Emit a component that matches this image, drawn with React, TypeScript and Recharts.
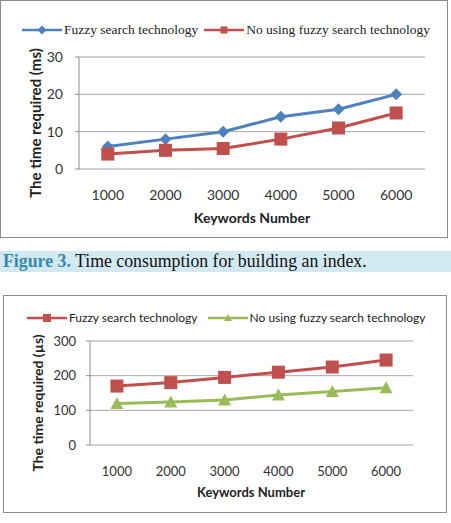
import { CartesianGrid, Legend, Line, LineChart, XAxis, YAxis } from "recharts";

// Keyword counts shared by both charts
const keywords = ["1000", "2000", "3000", "4000", "5000", "6000"];

// Index build time (ms)
const buildFuzzy = [6, 8, 10, 14, 16, 20];
const buildPlain = [4, 5, 5.5, 8, 11, 15];
const buildTicks = [0, 10, 20, 30];

// Query time (µs)
const queryFuzzy = [170, 180, 195, 210, 225, 245];
const queryPlain = [120, 124, 130, 144, 154, 165];
const queryTicks = [0, 100, 200, 300];

const edgeTicks = [0, 1, 2, 3, 4, 5, 6];

const BLUE = "#4f81bd";
const RED = "#c0504d";
const GREEN = "#9bbb59";
const GRID = "#a6a6a6";
const AXIS = "#8c8c8c";
const SANS = "Lato, 'Open Sans', sans-serif";
const SERIF = "'Liberation Serif', 'DejaVu Serif', serif";

const buildData = keywords.map((k, i) => ({
  k,
  fuzzy: buildFuzzy[i],
  plain: buildPlain[i],
}));

const queryData = keywords.map((k, i) => ({
  k,
  fuzzy: queryFuzzy[i],
  plain: queryPlain[i],
}));

type Shape = "diamond" | "square" | "triangle";

function marker(shape: Shape, cx: number, cy: number, size: number, color: string, key?: string) {
  const h = size / 2;
  if (shape === "diamond") {
    return (
      <path
        key={key}
        d={`M${cx},${cy - h - 1}L${cx + h + 1},${cy}L${cx},${cy + h + 1}L${cx - h - 1},${cy}Z`}
        fill={color}
      />
    );
  }
  if (shape === "square") {
    return <rect key={key} x={cx - h} y={cy - h} width={size} height={size} fill={color} />;
  }
  return (
    <path
      key={key}
      d={`M${cx},${cy - h}L${cx + h},${cy + h - 1}L${cx - h},${cy + h - 1}Z`}
      fill={color}
    />
  );
}

function dotFor(shape: Shape, size: number, color: string) {
  return (props: any) => {
    const { cx, cy, index } = props;
    if (cx == null || cy == null) return <g key={`d${index}`} />;
    return marker(shape, cx, cy, size, color, `d${index}`);
  };
}

type LegendItem = { label: string; color: string; shape: Shape };

function legendContent(items: LegendItem[], font: string, fontSize: number, gap: number, markSize: number) {
  return () => (
    <div style={{ display: "flex", alignItems: "center", whiteSpace: "nowrap" }}>
      {items.map((it, i) => (
        <div
          key={it.label}
          style={{ display: "flex", alignItems: "center", marginLeft: i === 0 ? 0 : gap }}
        >
          <svg width={40} height={14} style={{ display: "block" }}>
            <line x1={0} y1={7} x2={40} y2={7} stroke={it.color} strokeWidth={2.5} />
            {marker(it.shape, 20, 7, markSize, it.color)}
          </svg>
          <span
            style={{
              fontFamily: font,
              fontSize,
              color: "#222",
              marginLeft: 2,
              lineHeight: "14px",
            }}
          >
            {it.label}
          </span>
        </div>
      ))}
    </div>
  );
}

function yTitle(text: string, x: number, y: number, fontSize: number) {
  return () => (
    <text
      x={x}
      y={y}
      transform={`rotate(-90 ${x} ${y})`}
      textAnchor="middle"
      dominantBaseline="central"
      fontFamily={SANS}
      fontWeight={700}
      fontSize={fontSize}
      fill="#222"
    >
      {text}
    </text>
  );
}

function xTitle(text: string, x: number, y: number, fontSize: number) {
  return () => (
    <text
      x={x}
      y={y}
      textAnchor="middle"
      dominantBaseline="central"
      fontFamily={SANS}
      fontWeight={700}
      fontSize={fontSize}
      fill="#222"
    >
      {text}
    </text>
  );
}

export default function App() {
  return (
    <div
      style={{
        position: "absolute",
        left: 0,
        top: 0,
        width: 451,
        height: 523,
        background: "#fff",
        overflow: "hidden",
      }}
    >
      {/* index build time */}
      <div
        style={{
          position: "absolute",
          left: 0,
          top: 0,
          width: 448,
          height: 238,
          border: "1px solid #8a8a8a",
          boxSizing: "border-box",
        }}
      />
      <div style={{ position: "absolute", left: 0, top: 0 }}>
        <LineChart
          width={451}
          height={238}
          data={buildData}
          margin={{ top: 57, right: 26, bottom: 19, left: 39 }}
        >
          <CartesianGrid vertical={false} stroke={GRID} />
          <XAxis
            xAxisId="edges"
            type="number"
            domain={[0, 6]}
            ticks={edgeTicks}
            height={0}
            tick={false}
            tickSize={5}
            axisLine={{ stroke: AXIS }}
            tickLine={{ stroke: AXIS }}
          />
          <XAxis
            dataKey="k"
            scale="band"
            height={50}
            axisLine={false}
            tickLine={false}
            tickMargin={15}
            tick={{ fontFamily: SANS, fontSize: 14, fill: "#333" }}
            label={{ content: xTitle("Keywords Number", 252, 217, 14) }}
          />
          <YAxis
            width={40}
            domain={[0, 30]}
            ticks={buildTicks}
            tickSize={4}
            tickMargin={12}
            axisLine={{ stroke: AXIS }}
            tickLine={{ stroke: AXIS }}
            tick={{ fontFamily: SANS, fontSize: 14, fill: "#333" }}
            label={{ content: yTitle("The time required (ms)", 35, 123, 15) }}
          />
          <Legend
            layout="horizontal"
            verticalAlign="middle"
            align="center"
            wrapperStyle={{ top: 23, left: 22, width: "auto", height: 14 }}
            content={legendContent(
              [
                { label: "Fuzzy search technology", color: BLUE, shape: "diamond" },
                { label: "No using fuzzy search technology", color: RED, shape: "square" },
              ],
              SERIF,
              13.5,
              6,
              7
            )}
          />
          <Line
            dataKey="fuzzy"
            name="Fuzzy search technology"
            stroke={BLUE}
            strokeWidth={3}
            dot={dotFor("diamond", 10, BLUE)}
            isAnimationActive={false}
          />
          <Line
            dataKey="plain"
            name="No using fuzzy search technology"
            stroke={RED}
            strokeWidth={3}
            dot={dotFor("square", 13, RED)}
            isAnimationActive={false}
          />
        </LineChart>
      </div>

      {/* caption */}
      <div
        style={{
          position: "absolute",
          left: 0,
          top: 251,
          width: 451,
          height: 21,
          background: "#d2e9f1",
          fontFamily: SERIF,
          fontSize: 17.8,
          lineHeight: "21px",
          paddingLeft: 3,
          whiteSpace: "nowrap",
          color: "#111",
        }}
      >
        <span style={{ color: "#3a88ab", fontWeight: 700 }}>Figure 3.</span> Time consumption for
        building an index.
      </div>

      {/* query time */}
      <div
        style={{
          position: "absolute",
          left: 3,
          top: 295,
          width: 444,
          height: 218,
          border: "1px solid #8a8a8a",
          boxSizing: "border-box",
        }}
      />
      <div style={{ position: "absolute", left: 0, top: 295 }}>
        <LineChart
          width={451}
          height={217}
          data={queryData}
          margin={{ top: 46, right: 38, bottom: 17, left: 50 }}
        >
          <CartesianGrid vertical={false} stroke={GRID} />
          <XAxis
            xAxisId="edges"
            type="number"
            domain={[0, 6]}
            ticks={edgeTicks}
            height={0}
            tick={false}
            tickSize={5}
            axisLine={{ stroke: AXIS }}
            tickLine={{ stroke: AXIS }}
          />
          <XAxis
            dataKey="k"
            scale="band"
            height={50}
            axisLine={false}
            tickLine={false}
            tickMargin={16}
            tick={{ fontFamily: SANS, fontSize: 13, fill: "#333" }}
            label={{ content: xTitle("Keywords Number", 251, 197, 13) }}
          />
          <YAxis
            width={40}
            domain={[0, 300]}
            ticks={queryTicks}
            tickSize={4}
            tickMargin={10}
            axisLine={{ stroke: AXIS }}
            tickLine={{ stroke: AXIS }}
            tick={{ fontFamily: SANS, fontSize: 13, fill: "#333" }}
            label={{ content: yTitle("The time required (µs)", 37, 108, 14) }}
          />
          <Legend
            layout="horizontal"
            verticalAlign="middle"
            align="center"
            wrapperStyle={{ top: 16, left: 27, width: "auto", height: 14 }}
            content={legendContent(
              [
                { label: "Fuzzy search technology", color: RED, shape: "square" },
                { label: "No using fuzzy search technology", color: GREEN, shape: "triangle" },
              ],
              SANS,
              12,
              10,
              8
            )}
          />
          <Line
            dataKey="fuzzy"
            name="Fuzzy search technology"
            stroke={RED}
            strokeWidth={3}
            dot={dotFor("square", 13, RED)}
            isAnimationActive={false}
          />
          <Line
            dataKey="plain"
            name="No using fuzzy search technology"
            stroke={GREEN}
            strokeWidth={3}
            dot={dotFor("triangle", 13, GREEN)}
            isAnimationActive={false}
          />
        </LineChart>
      </div>
    </div>
  );
}
